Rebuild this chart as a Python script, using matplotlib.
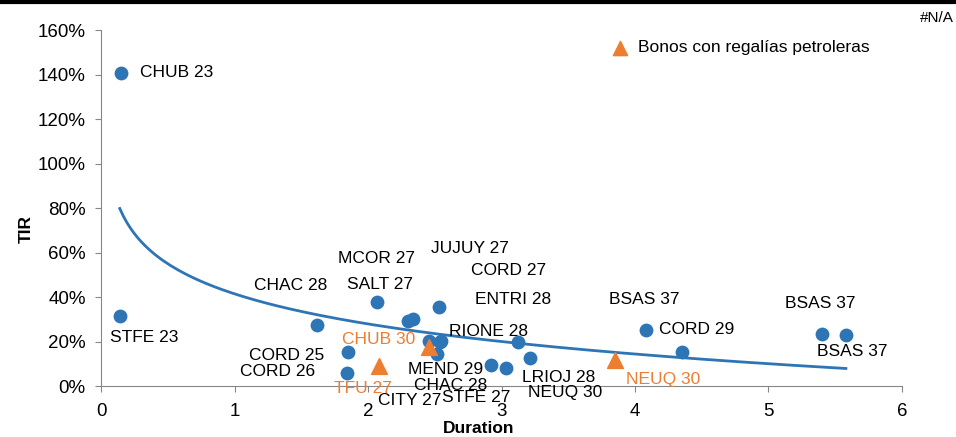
import numpy as np
import matplotlib
matplotlib.use("Agg")
from matplotlib import pyplot as plt

plt.rcParams['font.family'] = ['Liberation Sans', 'DejaVu Sans']

# provincial bonds (blue)
bond_names = ["CHUB 23", "STFE 23", "CHAC 28", "CORD 25", "CORD 26", "SALT 27",
              "MCOR 27", "JUJUY 27", "CORD 27", "MEND 29", "CITY 27", "RIONE 28",
              "CHAC 28", "STFE 27", "NEUQ 30", "ENTRI 28", "LRIOJ 28", "BSAS 37",
              "CORD 29", "BSAS 37", "BSAS 37"]
duration = [0.15, 0.14, 1.62, 1.85, 1.84, 2.07, 2.30, 2.34, 2.53, 2.46, 2.54,
            2.55, 2.52, 2.92, 3.03, 3.12, 3.21, 4.08, 4.35, 5.40, 5.58]
tir = [140.7, 31.5, 27.4, 15.3, 5.8, 37.8, 29.2, 30.1, 35.5, 20.2, 19.8,
       20.2, 14.4, 9.4, 8.1, 19.8, 12.6, 25.2, 15.3, 23.4, 22.9]

# bonds backed by oil royalties (orange)
oil_names = ["TFU 27", "CHUB 30", "NEUQ 30"]
oil_duration = [2.08, 2.46, 3.85]
oil_tir = [9.0, 17.5, 11.7]

# where the data labels sit (data coords, centred)
bond_label_pos = [(0.29, 140.7), (0.32, 21.6), (1.42, 45.0), (1.39, 13.9), (1.32, 6.7),
                  (2.09, 45.8), (2.06, 57.5), (2.76, 62.0), (3.05, 51.7), (2.58, 7.6),
                  (2.31, -6.7), (2.90, 24.3), (2.62, 0.3), (2.81, -5.0), (3.48, -3.1),
                  (3.09, 38.7), (3.43, 3.6), (4.07, 39.1), (4.46, 25.6), (5.39, 36.9),
                  (5.63, 15.3)]
oil_label_pos = [(1.96, -0.9), (2.08, 20.7), (4.21, 3.1)]

blue = '#2E75B6'
orange = '#ED7D31'
grey = '#868686'
fs = 12.5

fig = plt.figure(figsize=(9.56, 4.37), dpi=100)
ax = fig.add_axes([0.1057, 0.1167, 0.8378, 0.8146])

ax.scatter(duration, tir, s=80, color=blue, zorder=3)
ax.scatter(oil_duration, oil_tir, s=130, marker='^', color=orange, zorder=4,
           label='Bonos con regalías petroleras')

# log trend line over the blue series
b, a = np.polyfit(np.log(duration), tir, 1)
xt = np.linspace(min(duration), max(duration), 200)
ax.plot(xt, a + b*np.log(xt), color=blue, lw=2, zorder=2)

for i in range(len(bond_names)):
    ha = 'left' if i == 0 else 'center'
    ax.text(bond_label_pos[i][0], bond_label_pos[i][1], bond_names[i], fontsize=fs,
            ha=ha, va='center', color='black', zorder=5)
for i in range(len(oil_names)):
    ax.text(oil_label_pos[i][0], oil_label_pos[i][1], oil_names[i], fontsize=fs,
            ha='center', va='center', color=orange, zorder=5)

ax.set_xlim(0, 6)
ax.set_ylim(0, 160)
ax.set_yticks(range(0, 161, 20))
ax.set_yticklabels([str(v) + '%' for v in range(0, 161, 20)])
ax.set_xticks(range(0, 7))
ax.tick_params(axis='both', labelsize=13.5, color=grey, length=4)
ax.tick_params(axis='y', pad=7)
ax.tick_params(axis='x', pad=8)
for s in ['top', 'right']:
    ax.spines[s].set_visible(False)
for s in ['left', 'bottom']:
    ax.spines[s].set_color(grey)

ax.set_xlabel('Duration', fontsize=fs, fontweight='bold', va='center')
ax.set_ylabel('TIR', fontsize=fs, fontweight='bold', va='center')
ax.xaxis.set_label_coords(0.471, -0.118)
ax.yaxis.set_label_coords(-0.093, 0.44)

ax.legend(loc='upper left', bbox_to_anchor=(0.607, 1.015), frameon=False, fontsize=fs,
          handletextpad=0.0, markerscale=0.9)

fig.add_artist(plt.Line2D([0, 1], [0.996, 0.996], color='black', lw=3))
fig.text(0.998, 0.975, '#N/A', ha='right', va='top', fontsize=11)

plt.savefig('out.png', dpi=100)
